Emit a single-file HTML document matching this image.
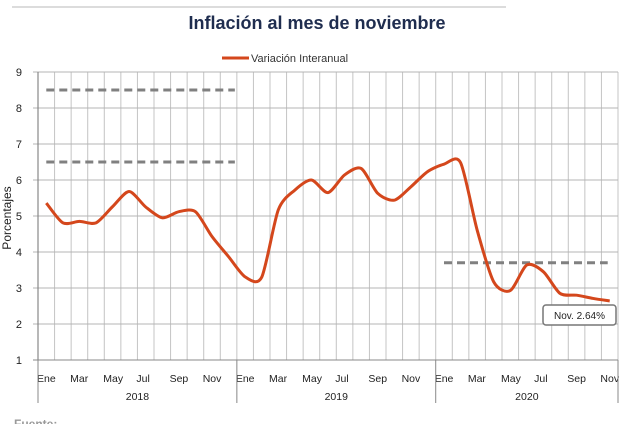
<!DOCTYPE html>
<html><head><meta charset="utf-8"><style>
body{margin:0;background:#fff;width:634px;height:424px;overflow:hidden}
svg{display:block;font-family:"Liberation Sans",sans-serif}
</style></head><body>
<svg id="c" width="634" height="424">
<line x1="12" y1="7" x2="506" y2="7" stroke="#d0d0d0" stroke-width="1.5"/>
<text x="317" y="29" text-anchor="middle" font-size="18" font-weight="bold" fill="#1f2d4f">Inflación al mes de noviembre</text>
<g>
<line x1="222" y1="58" x2="249" y2="58" stroke="#d4471c" stroke-width="3"/>
<text x="251" y="62" font-size="11" fill="#333">Variación Interanual</text>
</g>
<text transform="translate(11,218) rotate(-90)" text-anchor="middle" font-size="12" fill="#222">Porcentajes</text>
<g id="grid"></g><g id="axes"></g><g id="refs"></g><g id="series"></g>
<g>
<rect x="543" y="305" width="73" height="20" rx="3" fill="#fff" stroke="#777" stroke-width="1.5"/>
<text x="579.5" y="319" text-anchor="middle" font-size="10" fill="#222">Nov. 2.64%</text>
</g>
<text x="14" y="428" font-size="12" font-weight="bold" fill="#999">Fuente:</text>
</svg>
<script>
const months=["Ene","Feb","Mar","Abr","May","Jun","Jul","Ago","Sep","Oct","Nov","Dic"];
const years=["2018","2019","2020"];
const values=[5.36,4.81,4.85,4.81,5.26,5.68,5.25,4.95,5.12,5.12,4.43,3.87,
3.31,3.3,5.17,5.72,6.0,5.65,6.14,6.32,5.63,5.44,5.81,6.23,
6.44,6.48,4.61,3.17,2.93,3.64,3.45,2.85,2.80,2.71,2.64];
const yTicks=[1,2,3,4,5,6,7,8,9];
const refLines=[{v:8.5,from:0,to:11.5},{v:6.5,from:0,to:11.5},{v:3.7,from:24,to:34}];
const NS="http://www.w3.org/2000/svg";
const X0=38,X1=618,Y0=360,Y1=72,n=values.length,bw=(X1-X0)/n;
const xb=i=>X0+bw*i, xc=i=>X0+bw*(i+0.5), y=v=>Y0-(v-1)*(Y0-Y1)/8;
function mk(t,a,p){const e=document.createElementNS(NS,t);for(const k in a)e.setAttribute(k,a[k]);p.appendChild(e);return e;}
const grid=document.getElementById('grid'),axes=document.getElementById('axes');
for(let i=1;i<=n;i++){const l=mk('line',{x1:xb(i),x2:xb(i),y1:Y1,y2:Y0,stroke:'#c4c4c4','stroke-width':1},grid);

}
yTicks.forEach(t=>{const l=mk('line',{x1:33,x2:X1,y1:y(t),y2:y(t),stroke:t==1?'#888':'#b4b4b4','stroke-width':1},grid);


const tx=mk('text',{x:22,y:y(t)+4,'text-anchor':'end','font-size':11,fill:'#222'},axes);tx.textContent=t;

});
mk('line',{x1:X0,x2:X0,y1:Y1,y2:Y0,stroke:'#888','stroke-width':1.2},axes);
for(let i=0;i<n;i+=2){const tx=mk('text',{x:xb(i)-1,y:382,'font-size':10.5,fill:'#222'},axes);tx.textContent=months[i%12];

}
years.forEach((yr,k)=>{const s=k*12;
const d=mk('line',{x1:xb(s),x2:xb(s),y1:Y0,y2:403,stroke:'#888','stroke-width':1},axes);


const tx=mk('text',{x:(xb(s)+xb(s+12>n?n:s+12))/2,y:400,'text-anchor':'middle','font-size':10.5,fill:'#222'},axes);tx.textContent=yr;

});
mk('line',{x1:X1,x2:X1,y1:Y0,y2:403,stroke:'#888','stroke-width':1},axes);
const refs=document.getElementById('refs');
refLines.forEach(r=>{const l=mk('line',{x1:xc(r.from),x2:xc(r.to)-2,y1:y(r.v),y2:y(r.v),stroke:'#808080','stroke-width':3,'stroke-dasharray':'8 5'},refs);

});
const P=values.map((v,i)=>[xc(i),y(v)]);
let d=`M${P[0][0]},${P[0][1]}`;
for(let i=0;i<P.length-1;i++){const p0=P[i-1]||P[i],p1=P[i],p2=P[i+1],p3=P[i+2]||p2,t=0.4/3;
d+=` C${p1[0]+(p2[0]-p0[0])*t},${p1[1]+(p2[1]-p0[1])*t} ${p2[0]-(p3[0]-p1[0])*t},${p2[1]-(p3[1]-p1[1])*t} ${p2[0]},${p2[1]}`;}
const path=mk('path',{d:d,fill:'none',stroke:'#d4471c','stroke-width':3,'stroke-linejoin':'round'},document.getElementById('series'));


</script>
</body></html>
